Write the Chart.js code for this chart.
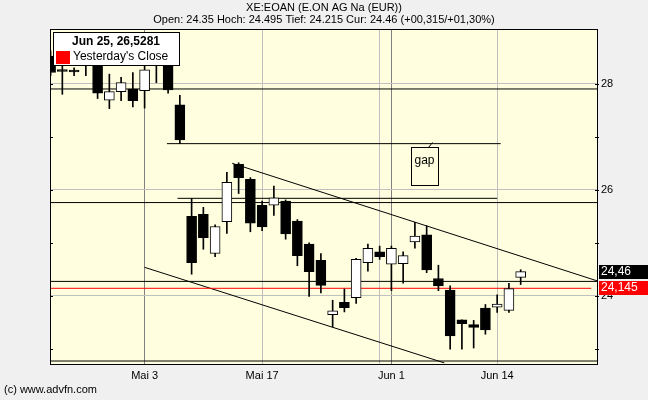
<!DOCTYPE html>
<html>
<head>
<meta charset="utf-8">
<script src="https://cdn.jsdelivr.net/npm/chart.js@4/dist/chart.umd.min.js"></script>
<style>
	body { margin:0; background:#f0f0f0; }
	canvas { display:block; }
</style>
</head>
<body>
<canvas id="myChart" width="648" height="400"></canvas>
<script>
document.addEventListener('DOMContentLoaded', init, false);

// trading days, counted from Mai 3 (= 0)
const days   = [-8, -7, -6, -5, -4, -3, -2, -1, 0, 1, 2, 3, 4, 5, 6, 7, 8, 9, 10, 11, 12, 13, 14, 15, 16, 17, 18, 19, 20, 21, 22, 23, 24, 25, 26, 27, 28, 29, 30, 31, 32];
const opens  = [28.52, 28.23, 28.23, 28.55, 28.50, 27.69, 27.85, 27.90, 27.87, 28.45, 28.55, 27.60, 25.50, 25.54, 24.80, 25.40, 26.48, 26.20, 25.71, 25.71, 25.79, 25.41, 24.98, 24.67, 23.65, 23.88, 23.97, 24.63, 24.83, 24.60, 24.61, 25.02, 25.15, 24.33, 24.11, 23.55, 23.46, 23.77, 23.79, 23.73, 24.35];
const highs  = [28.62, 28.40, 28.30, 28.60, 28.62, 28.18, 28.12, 28.21, 28.40, 28.80, 28.65, 27.78, 25.84, 25.67, 25.34, 26.33, 26.51, 26.23, 25.79, 26.07, 25.81, 25.44, 25.00, 24.80, 23.92, 24.13, 24.71, 24.98, 24.94, 24.94, 24.83, 25.39, 25.32, 24.58, 24.19, 23.55, 23.54, 23.84, 24.02, 24.24, 24.495];
const lows   = [28.15, 27.80, 28.15, 28.15, 27.72, 27.53, 27.68, 27.56, 27.54, 28.02, 27.82, 26.87, 24.41, 24.88, 24.74, 25.18, 25.93, 25.21, 25.23, 25.52, 25.07, 24.57, 23.99, 24.06, 23.42, 23.70, 23.86, 24.47, 24.69, 24.10, 24.24, 24.90, 24.44, 24.10, 23.00, 23.00, 23.02, 23.28, 23.69, 23.69, 24.215];
const closes = [28.21, 28.23, 28.22, 28.42, 27.82, 27.85, 28.02, 27.68, 28.26, 28.70, 27.88, 26.94, 24.63, 25.10, 25.31, 26.14, 26.23, 25.37, 25.30, 25.85, 25.17, 24.76, 24.46, 24.20, 23.72, 23.78, 24.69, 24.90, 24.74, 24.90, 24.76, 25.13, 24.49, 24.19, 23.25, 23.48, 23.41, 23.36, 23.85, 24.14, 24.46];

const xMin = -8.05;
const xMax = 38.58;
const yMin = 22.70;
const yMax = 29.03;

const xTickDays   = [0, 10, 20, 21, 30];
const xTickLabels = ['Mai 3', 'Mai 17', '', 'Jun 1', 'Jun 14'];
const monthDays   = [0, 21];
const yTickValues = [23, 24, 25, 26, 27, 28];
const yTickLabels = ['', '24', '', '26', '', '28'];

// horizontal support / resistance lines
const levelPrices = [27.90, 26.87, 25.84, 25.76, 24.275, 22.775];
const levelFrom   = [xMin, 1.9, 2.8, xMin, xMin, xMin];
const levelTo     = [xMax, 30.3, 30.0, xMax, xMax, xMax];

const yesterdayClose = 24.145;
const lastPrice = 24.46;

// trend channel [day, price]
const upperTrend = [[7.45, 26.50], [38.58, 24.28]];
const lowerTrend = [[0, 24.54], [25.5, 22.74]];

// gap note box: days and prices
const gapBox = [22.7, 24.95, 26.81, 26.10];

const font = 'Liberation Sans, Arial, sans-serif';

function line(points, color) {
	return {
		type:'line',
		data: points.map(p => ({x:p[0], y:p[1]})),
		borderColor: color,
		borderWidth: 1,
		pointRadius: 0,
		tension: 0
	};
}

const decor = {
	id: 'decor',
	beforeDraw(chart) {
		let {ctx, chartArea:a} = chart;
		ctx.save();
		ctx.fillStyle = '#f0f0f0';
		ctx.fillRect(0, 0, chart.width, chart.height);
		ctx.fillStyle = '#ffffe0';
		ctx.fillRect(a.left, a.top, a.right - a.left, a.bottom - a.top);
		ctx.restore();
	},
	afterDraw(chart) {
		let {ctx, chartArea:a} = chart;
		let xs = chart.scales.x, ys = chart.scales.y;
		ctx.save();

		// frame
		ctx.strokeStyle = '#000';
		ctx.lineWidth = 1;
		ctx.strokeRect(a.left + 0.5, a.top + 0.5, a.right - a.left - 1, a.bottom - a.top - 1);

		// small ticks on both sides
		ctx.beginPath();
		for(let v of yTickValues) {
			let y = Math.round(ys.getPixelForValue(v)) + 0.5;
			ctx.moveTo(a.left, y); ctx.lineTo(a.left + 3, y);
			ctx.moveTo(a.right - 3, y); ctx.lineTo(a.right + 1, y);
		}
		ctx.stroke();

		// gap note
		let gx0 = Math.round(xs.getPixelForValue(gapBox[0])) + 0.5;
		let gx1 = Math.round(xs.getPixelForValue(gapBox[1])) + 0.5;
		let gy0 = Math.round(ys.getPixelForValue(gapBox[2])) + 0.5;
		let gy1 = Math.round(ys.getPixelForValue(gapBox[3])) + 0.5;
		ctx.strokeRect(gx0, gy0, gx1 - gx0, gy1 - gy0);
		ctx.beginPath();
		ctx.moveTo(gx0 + 17, gy0);
		ctx.lineTo(gx0 + 21, gy0 - 5);
		ctx.stroke();
		ctx.fillStyle = '#000';
		ctx.font = '12px ' + font;
		ctx.textBaseline = 'middle';
		ctx.textAlign = 'left';
		ctx.fillText('gap', gx0 + 3, gy0 + 13);

		// value boxes on the right
		let boxes = [[lastPrice, '#000000', '24,46'], [yesterdayClose, '#ff0000', '24,145']];
		for(let b of boxes) {
			let y = Math.round(ys.getPixelForValue(b[0]));
			ctx.fillStyle = b[1];
			ctx.fillRect(a.right + 1, y - 7, 50, 14);
			ctx.fillStyle = '#fff';
			ctx.fillText(b[2], a.right + 3, y);
		}

		// legend
		ctx.fillStyle = '#fff';
		ctx.fillRect(53, 32, 126, 33);
		ctx.strokeRect(53.5, 32.5, 126, 33);
		ctx.fillStyle = '#000';
		ctx.font = 'bold 12px ' + font;
		ctx.textAlign = 'center';
		ctx.fillText('Jun 25, 26,5281', 116, 42);
		ctx.fillStyle = '#ff0000';
		ctx.fillRect(56, 51, 14, 13);
		ctx.fillStyle = '#000';
		ctx.font = '12px ' + font;
		ctx.textAlign = 'left';
		ctx.fillText("Yesterday's Close", 73, 57);

		// header and footer
		ctx.font = '11px ' + font;
		ctx.textAlign = 'center';
		ctx.fillText('XE:EOAN (E.ON AG Na (EUR))', chart.width / 2, 8);
		ctx.fillText('Open: 24.35 Hoch: 24.495 Tief: 24.215 Cur: 24.46 (+00,315/+01,30%)', chart.width / 2, 20);
		ctx.textAlign = 'left';
		ctx.fillText('(c) www.advfn.com', 4, 390);

		ctx.restore();
	}
};

function init() {

	const ctx = document.getElementById('myChart');

	let datasets = [];

	datasets.push({
		type:'bar',
		data: days.map((d, i) => ({x:d, y:[opens[i], closes[i]]})),
		backgroundColor: closes.map((c, i) => c > opens[i] ? '#ffffff' : '#000000'),
		borderColor:'#000',
		borderWidth:1,
		borderSkipped:false,
		barThickness:10,
		minBarLength:2,
		grouped:false
	});

	datasets.push({
		type:'bar',
		data: days.map((d, i) => ({x:d, y:[lows[i], highs[i]]})),
		backgroundColor:'#000',
		borderWidth:0,
		barThickness:1,
		grouped:false
	});

	for(let i = 0; i < levelPrices.length; i++) {
		datasets.push(line([[levelFrom[i], levelPrices[i]], [levelTo[i], levelPrices[i]]], '#000'));
	}
	datasets.push(line([[xMin, yesterdayClose], [38, yesterdayClose]], '#ff0000'));
	datasets.push(line(upperTrend, '#000'));
	datasets.push(line(lowerTrend, '#000'));

	new Chart(ctx, {
		type: 'bar',
		data: { datasets: datasets },
		plugins: [decor],
		options: {
			responsive:false,
			devicePixelRatio:1,
			animation:false,
			layout: { padding: { left:50, top:29, right:0, bottom:0 } },
			plugins: { legend:{ display:false }, tooltip:{ enabled:false } },
			scales: {
				x: {
					type:'linear',
					min:xMin,
					max:xMax,
					offset:false,
					afterBuildTicks: s => { s.ticks = xTickDays.map(v => ({value:v})); },
					afterFit: s => { s.height = 35; },
					ticks: {
						autoSkip:false,
						maxRotation:0,
						padding:4,
						color:'#000',
						font:{ family:font, size:11 },
						callback: (v, i) => xTickLabels[i]
					},
					grid: {
						offset:false,
						drawTicks:false,
						color: c => monthDays.includes(c.tick.value) ? '#808080' : '#c0c0c0'
					},
					border: { display:false }
				},
				y: {
					position:'right',
					min:yMin,
					max:yMax,
					beginAtZero:false,
					afterBuildTicks: s => { s.ticks = yTickValues.map(v => ({value:v})); },
					afterFit: s => { s.width = 50; },
					ticks: {
						padding:3,
						color:'#000',
						font:{ family:font, size:11 },
						callback: (v, i) => yTickLabels[i]
					},
					grid: {
						drawTicks:false,
						color: c => yTickLabels[c.index] ? '#c0c0c0' : 'rgba(0,0,0,0)'
					},
					border: { display:false }
				}
			}
		}
	});
}
</script>
</body>
</html>
